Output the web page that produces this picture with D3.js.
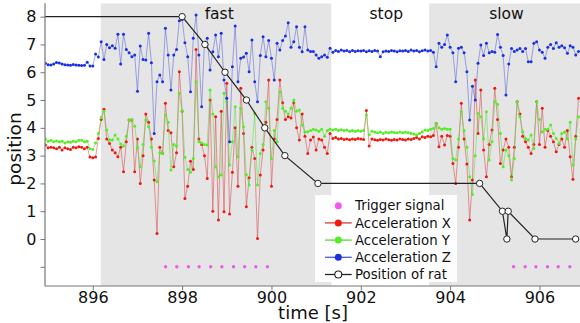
<!DOCTYPE html>
<html>
<head>
<meta charset="utf-8">
<script src="https://cdn.jsdelivr.net/npm/d3@7/dist/d3.min.js"></script>
<style>
  body { margin: 0; background: #fff; }
  svg { display: block; font-family: "DejaVu Sans", sans-serif; }
</style>
</head>
<body>
<div id="chart"></div>
<script>
// sampling of the accelerometer (16 Hz), first sample time
const sampleStart = 894.875;
const samplePeriod = 0.0625;

// one row per second (first row: 894.875, 894.9375)
const accX = [
  3.3, 3.38,
  3.28, 3.3, 3.28, 3.25, 3.3, 3.2, 3.28, 3.25, 3.22, 3.3, 3.28, 3.32, 3.3, 3.25, 3.3, 2.95,
  2.92, 2.95, 3.62, 4.3, 4.67, 3.6, 3.44, 3.2, 3.1, 2.96, 3.3, 2.42, 3.5, 4.28, 4.28, 2.42,
  3.6, 2.0, 3.0, 4.5, 4.2, 3.6, 2.12, 0.2, 3.3, 3.08, 4.88, 3.9, 3.82, 2.6, 3.1, 6.02,
  4.6, 1.46, 1.9, 2.8, 2.5, 6.82, 3.6, 3.4, 3.0, 2.18, 5.0, 1.0, 4.4, 0.68, 4.6, 0.98,
  5.6, 0.9, 2.4, 4.0, 1.9, 5.42, 3.8, 1.16, 2.2, 3.3, 2.9, 0.02, 2.3, 3.2, 4.2, 5.72,
  1.9, 3.6, 4.3, 5.72, 4.9, 4.3, 4.4, 4.35, 4.9, 4.0, 3.56, 4.5, 3.7, 3.08, 3.56, 3.67,
  3.2, 3.6, 3.56, 3.3, 3.08, 3.8, 3.62, 3.65, 3.6, 3.62, 3.58, 3.6, 3.57, 3.6, 3.58, 3.62,
  3.6, 3.58, 4.62, 3.35, 3.6, 3.57, 3.55, 3.58, 3.56, 3.6, 3.57, 3.55, 3.58, 3.56, 3.6, 3.58,
  3.56, 3.6, 3.58, 3.62, 3.65, 3.6, 3.68, 3.65, 3.7, 3.68, 3.72, 4.16, 3.32, 3.7, 3.38, 3.72,
  3.7, 2.72, 2.0, 3.3, 4.88, 3.6, 2.7, 0.68, 2.12, 5.72, 3.8, 5.36, 3.2, 2.24, 3.4, 3.92,
  5.42, 4.3, 2.72, 3.2, 3.6, 3.3, 2.24, 3.3, 4.94, 4.5, 3.7, 3.5, 3.3, 3.08, 3.4, 4.94,
  3.4, 4.7, 3.3, 3.9, 3.7, 3.5, 3.14, 3.4, 3.6, 3.3, 3.9, 2.96, 2.15, 3.7, 5.06
];
const accY = [
  3.55, 3.6,
  3.52, 3.55, 3.5, 3.53, 3.5, 3.52, 3.45, 3.5, 3.48, 3.52, 3.5, 3.55, 3.55, 3.5, 3.52, 3.25,
  3.22, 3.45, 3.8, 4.37, 4.6, 3.92, 3.56, 3.56, 3.74, 3.6, 3.42, 3.35, 3.7, 4.28, 4.3, 4.06,
  3.3, 2.6, 3.4, 4.28, 4.04, 3.3, 2.81, 2.06, 3.1, 3.08, 4.46, 4.2, 2.48, 3.4, 3.35, 5.24,
  4.6, 2.94, 2.5, 2.4, 2.9, 5.66, 3.5, 3.45, 3.4, 3.38, 5.36, 4.5, 2.6, 2.24, 2.3, 5.24,
  4.94, 2.66, 3.5, 4.76, 2.96, 4.7, 4.04, 2.31, 1.94, 3.2, 4.52, 1.94, 3.08, 3.4, 4.94, 4.7,
  2.9, 3.9, 3.5, 5.3, 4.7, 4.6, 4.5, 4.7, 5.0, 4.6, 4.64, 4.1, 3.85, 3.86, 3.9, 3.95,
  3.92, 3.88, 3.95, 3.7, 3.9, 3.95, 3.92, 3.95, 3.9, 3.93, 3.9, 3.92, 3.88, 3.9, 3.88, 3.9,
  3.88, 3.9, 4.46, 3.75, 3.88, 3.85, 3.82, 3.85, 3.8, 3.84, 3.82, 3.85, 3.83, 3.82, 3.85, 3.82,
  3.84, 3.82, 3.8, 3.78, 3.74, 3.8, 3.85, 3.92, 3.9, 3.95, 3.98, 4.16, 4.0, 3.95, 3.98, 3.95,
  3.95, 2.9, 2.84, 3.6, 4.58, 3.9, 3.3, 2.24, 1.6, 3.0, 4.52, 4.4, 3.6, 4.58, 2.84, 3.5,
  4.94, 4.85, 3.8, 2.6, 3.2, 3.0, 2.12, 2.9, 4.94, 4.4, 3.86, 3.62, 3.56, 3.74, 3.26, 4.94,
  4.3, 3.85, 3.95, 3.95, 4.1, 3.8, 3.62, 3.44, 3.8, 3.85, 3.6, 4.2, 2.66, 3.6, 4.4
];
const accZ = [
  6.36, 6.32,
  6.27, 6.26, 6.3, 6.35, 6.33, 6.3, 6.27, 6.26, 6.25, 6.28, 6.26, 6.25, 6.24, 6.25, 6.36, 6.22,
  6.22, 6.66, 6.55, 7.1, 6.46, 7.0, 6.88, 6.95, 6.86, 7.37, 6.3, 7.37, 6.82, 6.7, 6.56, 6.62,
  5.32, 6.94, 6.46, 6.44, 7.4, 6.34, 3.8, 5.66, 5.9, 5.66, 7.58, 6.62, 5.36, 6.62, 6.82, 7.85,
  7.9, 7.06, 6.56, 5.3, 7.22, 8.06, 6.62, 4.76, 7.04, 7.22, 6.08, 6.74, 7.34, 6.56, 7.4, 5.72,
  5.06, 3.5, 6.2, 7.66, 5.66, 6.5, 6.55, 6.68, 6.02, 7.16, 5.66, 4.94, 6.6, 7.28, 6.56, 7.14,
  6.5, 5.72, 7.04, 6.8, 7.14, 7.3, 7.78, 6.9, 7.1, 7.64, 6.9, 6.74, 7.64, 6.8, 6.75, 6.75,
  6.62, 6.5, 6.56, 6.62, 6.54, 6.86, 6.72, 6.78, 6.75, 6.8, 6.76, 6.78, 6.74, 6.78, 6.75, 6.77,
  6.76, 6.78, 6.74, 6.77, 6.75, 6.78, 6.76, 6.56, 6.74, 6.76, 6.75, 6.78, 6.76, 6.74, 6.77, 6.76,
  6.78, 6.75, 6.8, 6.76, 6.78, 6.74, 6.77, 6.8, 6.76, 6.78, 6.72, 6.2, 7.04, 6.9, 7.0, 7.34,
  6.9, 6.7, 5.66, 6.86, 6.9, 6.7, 6.02, 4.28, 5.5, 5.0, 6.32, 6.98, 6.6, 7.04, 6.7, 6.75,
  6.72, 7.36, 6.9, 6.6, 5.18, 6.3, 6.85, 6.75, 6.8, 6.85, 6.75, 6.85, 6.38, 6.38, 7.04, 7.1,
  6.8, 6.72, 6.5, 6.9, 7.0, 6.85, 7.06, 6.9, 6.95, 6.88, 6.68, 6.95, 6.9, 6.62, 6.75
];

const triggerTimes = [897.63, 897.88, 898.14, 898.38, 898.64, 898.89, 899.15, 899.40, 899.65, 899.91,
                      905.42, 905.68, 905.92, 906.18, 906.42, 906.68];
const triggerLevel = -1;

const ratTime = [894.5, 898.0, 898.51, 898.96, 899.44, 899.85, 900.30, 901.04, 904.66, 905.17, 905.27, 905.30, 905.90, 906.81];
const ratPos  = [8, 8, 7, 6, 5, 4, 3, 2, 2, 1, 0, 1, 0, 0];

const phaseNames = ['fast', 'stop', 'slow'];
const phaseStart = [896.18, 901.34, 903.53];
const phaseEnd   = [901.34, 903.53, 908];
const phaseShaded = [true, false, true];
const phaseLabelAt = [898.83, 902.57, 905.26];

const xTicks = [896, 898, 900, 902, 904, 906];
const yTicks = [-1, 0, 1, 2, 3, 4, 5, 6, 7, 8];

const W = 580, H = 323;
const plotLeft = 45, plotRight = 581, plotTop = 3.3, plotBottom = 286;

const svg = d3.select('#chart').append('svg').attr('width', W).attr('height', H);

const x = d3.scaleLinear().domain([894.93, 906.93]).range([plotLeft, plotRight]);
const y = d3.scaleLinear().domain([-1.69, 8.48]).range([plotBottom, plotTop]);

svg.append('clipPath').attr('id', 'plot')
  .append('rect').attr('x', plotLeft).attr('y', plotTop)
  .attr('width', plotRight - plotLeft).attr('height', plotBottom - plotTop);

const g = svg.append('g').attr('clip-path', 'url(#plot)');

// shaded phases
phaseNames.forEach((name, i) => {
  if (phaseShaded[i]) {
    g.append('rect')
      .attr('x', x(phaseStart[i])).attr('y', plotTop)
      .attr('width', x(phaseEnd[i]) - x(phaseStart[i])).attr('height', plotBottom - plotTop)
      .attr('fill', '#e5e5e5');
  }
  g.append('text')
    .attr('x', x(phaseLabelAt[i])).attr('y', 19)
    .attr('text-anchor', 'middle')
    .attr('font-size', '15.5px').attr('fill', '#111')
    .text(name);
});

// trigger signal
g.selectAll('circle.trig').data(triggerTimes).enter().append('circle')
  .attr('class', 'trig')
  .attr('cx', (d) => x(d)).attr('cy', y(triggerLevel)).attr('r', 1.7)
  .attr('fill', '#ee22ee').attr('opacity', 0.7);

const series = [
  { name: 'Acceleration X', values: accX, line: '#d83a3a', dot: '#ee1a12' },
  { name: 'Acceleration Y', values: accY, line: '#5ad83a', dot: '#55ee22' },
  { name: 'Acceleration Z', values: accZ, line: '#4a5ad8', dot: '#1a30e0' },
];

const tOf = (i) => sampleStart + i * samplePeriod;

series.forEach((s) => {
  const line = d3.line().x((d, i) => x(tOf(i))).y((d) => y(d));
  g.append('path').datum(s.values)
    .attr('d', line).attr('fill', 'none')
    .attr('stroke', s.line).attr('stroke-width', 1).attr('opacity', 0.5);
  g.selectAll(null).data(s.values).enter().append('circle')
    .attr('cx', (d, i) => x(tOf(i))).attr('cy', (d) => y(d)).attr('r', 1.5)
    .attr('fill', s.dot);
});

// position of rat
const ratData = ratTime.map((t, i) => [t, ratPos[i]]);
g.append('path').datum(ratData)
  .attr('d', d3.line().x((d) => x(d[0])).y((d) => y(d[1])))
  .attr('fill', 'none').attr('stroke', '#222').attr('stroke-width', 1.2);
g.selectAll(null).data(ratData).enter().append('circle')
  .attr('cx', (d) => x(d[0])).attr('cy', (d) => y(d[1])).attr('r', 3.2)
  .attr('fill', '#fff').attr('stroke', '#222').attr('stroke-width', 1);

// axes
const xAxis = svg.append('g').attr('transform', `translate(0,${plotBottom})`)
  .call(d3.axisBottom(x).tickValues(xTicks).tickSize(4.5).tickPadding(1.5).tickFormat(d3.format('d')));
const yAxis = svg.append('g').attr('transform', `translate(${plotLeft},0)`)
  .call(d3.axisLeft(y).tickValues(yTicks).tickSize(4.5).tickPadding(4)
    .tickFormat((d) => (d < 0 ? '' : d)));
[xAxis, yAxis].forEach((a) => {
  a.select('.domain').attr('stroke', '#777').attr('stroke-width', 1.2);
  a.selectAll('.tick line').attr('stroke', '#777').attr('stroke-width', 1);
  a.selectAll('.tick text').attr('font-size', '16px').attr('fill', '#111')
    .attr('font-family', '"DejaVu Sans", sans-serif');
});
xAxis.select('.domain').attr('d', `M${plotLeft},0H${plotRight}`);
yAxis.select('.domain').attr('d', `M0,${plotTop}V${plotBottom}`);

// axis labels
svg.append('text')
  .attr('x', (plotLeft + plotRight) / 2).attr('y', 318.5)
  .attr('text-anchor', 'middle').attr('font-size', '18px').attr('fill', '#111')
  .text('time [s]');
svg.append('text')
  .attr('transform', 'translate(20.5,149) rotate(-90)')
  .attr('text-anchor', 'middle').attr('font-size', '18.5px').attr('fill', '#111')
  .text('position');

// legend
const legend = svg.append('g').attr('transform', 'translate(315,195)');
legend.append('rect').attr('width', 142).attr('height', 87).attr('fill', '#fff').attr('opacity', 0.9);
const legendRows = [
  { label: 'Trigger signal', kind: 'trig' },
  { label: 'Acceleration X', kind: 'acc', s: series[0] },
  { label: 'Acceleration Y', kind: 'acc', s: series[1] },
  { label: 'Acceleration Z', kind: 'acc', s: series[2] },
  { label: 'Position of rat', kind: 'rat' },
];
legendRows.forEach((r, i) => {
  const ry = 10.7 + i * 17.2;
  const row = legend.append('g').attr('transform', `translate(0,${ry})`);
  if (r.kind === 'trig') {
    row.append('circle').attr('cx', 23.3).attr('cy', 0).attr('r', 3.5)
      .attr('fill', '#ee22ee').attr('opacity', 0.75);
  } else if (r.kind === 'acc') {
    row.append('line').attr('x1', 10).attr('x2', 36.7).attr('y1', 0).attr('y2', 0)
      .attr('stroke', r.s.line).attr('stroke-width', 1.3);
    row.append('circle').attr('cx', 23.3).attr('cy', 0).attr('r', 3.5).attr('fill', r.s.dot);
  } else {
    row.append('line').attr('x1', 10).attr('x2', 36.7).attr('y1', 0).attr('y2', 0)
      .attr('stroke', '#222').attr('stroke-width', 1.3);
    row.append('circle').attr('cx', 23.3).attr('cy', 0).attr('r', 3.5)
      .attr('fill', '#fff').attr('stroke', '#222').attr('stroke-width', 1.1);
  }
  row.append('text').attr('x', 40).attr('y', 0).attr('dy', '0.35em')
    .attr('font-size', '13.3px').attr('fill', '#111').text(r.label);
});
</script>
</body>
</html>
